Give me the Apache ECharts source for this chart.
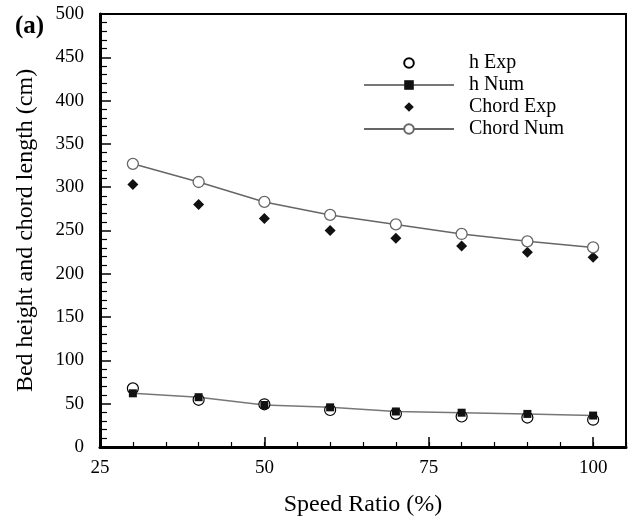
<!DOCTYPE html>
<html>
<head>
<meta charset="utf-8">
<script src="https://cdn.jsdelivr.net/npm/echarts@6.0.0/dist/echarts.min.js"></script>
<style>
html,body{margin:0;padding:0;background:#fff;}
#c{width:633px;height:519px;}
</style>
</head>
<body>
<div id="c"></div>
<script>
var speedRatio = [30, 40, 50, 60, 70, 80, 90, 100];
var hExp = [67.7, 54.5, 49.3, 42.7, 38.3, 35.2, 34.0, 31.5];
var hNum = [62.0, 57.5, 48.5, 45.8, 41.0, 39.6, 38.2, 36.3];
var chordExp = [303, 280, 264, 250, 241, 232, 225, 219];
var chordNum = [327, 306, 283, 268, 257, 246, 237.5, 230.5];
var xTicks = [25, 50, 75, 100];
var yTicks = [0, 50, 100, 150, 200, 250, 300, 350, 400, 450, 500];

function pairs(xs, ys) { return xs.map(function (x, i) { return [x, ys[i]]; }); }

var serif = 'Liberation Serif, Times New Roman, serif';
var chart = echarts.init(document.getElementById('c'), null, {renderer: 'canvas'});
chart.setOption({
  animation: false,
  backgroundColor: '#fff',
  title: {
    text: '(a)', left: 10, top: 9,
    textStyle: {fontFamily: serif, fontWeight: 'bold', fontSize: 25, color: '#000'}
  },
  grid: {left: 100, right: 7, top: 14, bottom: 72, show: true, borderColor: '#000', borderWidth: 2, outerBoundsMode: 'none'},
  legend: {
    orient: 'vertical', left: 358, top: 48,
    itemWidth: 90, itemHeight: 12, itemGap: 2,
    data: ['h Exp', 'h Num', 'Chord Exp', 'Chord Num'],
    textStyle: {fontFamily: serif, fontSize: 20, color: '#000', lineHeight: 19, padding: [0, 0, 0, 10]}
  },
  xAxis: [{
    type: 'value', min: xTicks[0], max: 105, interval: 25, position: 'bottom',
    name: 'Speed Ratio (%)', nameLocation: 'middle', nameGap: 46,
    nameTextStyle: {fontFamily: serif, fontSize: 24, color: '#000'},
    axisLine: {show: true, onZero: false, lineStyle: {color: '#000', width: 3}},
    axisTick: {show: true, inside: true, length: 10, lineStyle: {color: '#000', width: 1.5}},
    axisLabel: {fontFamily: serif, fontSize: 19, color: '#000', margin: 12, showMaxLabel: false},
    splitLine: {show: false}
  }, {
    type: 'value', min: xTicks[0], max: 105, interval: 5, position: 'bottom',
    axisLine: {show: false},
    axisTick: {show: true, inside: true, length: 5, lineStyle: {color: '#000', width: 1.2}},
    axisLabel: {show: false},
    splitLine: {show: false}
  }],
  yAxis: {
    type: 'value', min: yTicks[0], max: yTicks[yTicks.length - 1], interval: 50,
    name: 'Bed height and chord length (cm)', nameLocation: 'middle', nameGap: 62,
    nameTextStyle: {fontFamily: serif, fontSize: 24, color: '#000'},
    axisLine: {show: true, onZero: false, lineStyle: {color: '#000', width: 3}},
    axisTick: {show: true, inside: true, length: 11, lineStyle: {color: '#000', width: 1.5}},
    minorTick: {show: true, splitNumber: 5, length: 7, lineStyle: {color: '#000', width: 1.2}},
    axisLabel: {fontFamily: serif, fontSize: 19, color: '#000', margin: 16},
    splitLine: {show: false}
  },
  series: [{
    name: 'h Exp', type: 'line', data: pairs(speedRatio, hExp),
    symbol: 'circle', symbolSize: 11,
    itemStyle: {color: '#fff', borderColor: '#000', borderWidth: 1.2},
    lineStyle: {opacity: 0, width: 0}
  }, {
    name: 'h Num', type: 'line', data: pairs(speedRatio, hNum),
    symbol: 'rect', symbolSize: 8,
    itemStyle: {color: '#111'},
    lineStyle: {color: '#777', width: 1.5}
  }, {
    name: 'Chord Exp', type: 'line', data: pairs(speedRatio, chordExp),
    symbol: 'diamond', symbolSize: 11,
    itemStyle: {color: '#111'},
    lineStyle: {opacity: 0, width: 0}
  }, {
    name: 'Chord Num', type: 'line', data: pairs(speedRatio, chordNum),
    symbol: 'circle', symbolSize: 11,
    itemStyle: {color: '#fff', borderColor: '#666', borderWidth: 1.3},
    lineStyle: {color: '#666', width: 1.5}
  }]
});
</script>
</body>
</html>
